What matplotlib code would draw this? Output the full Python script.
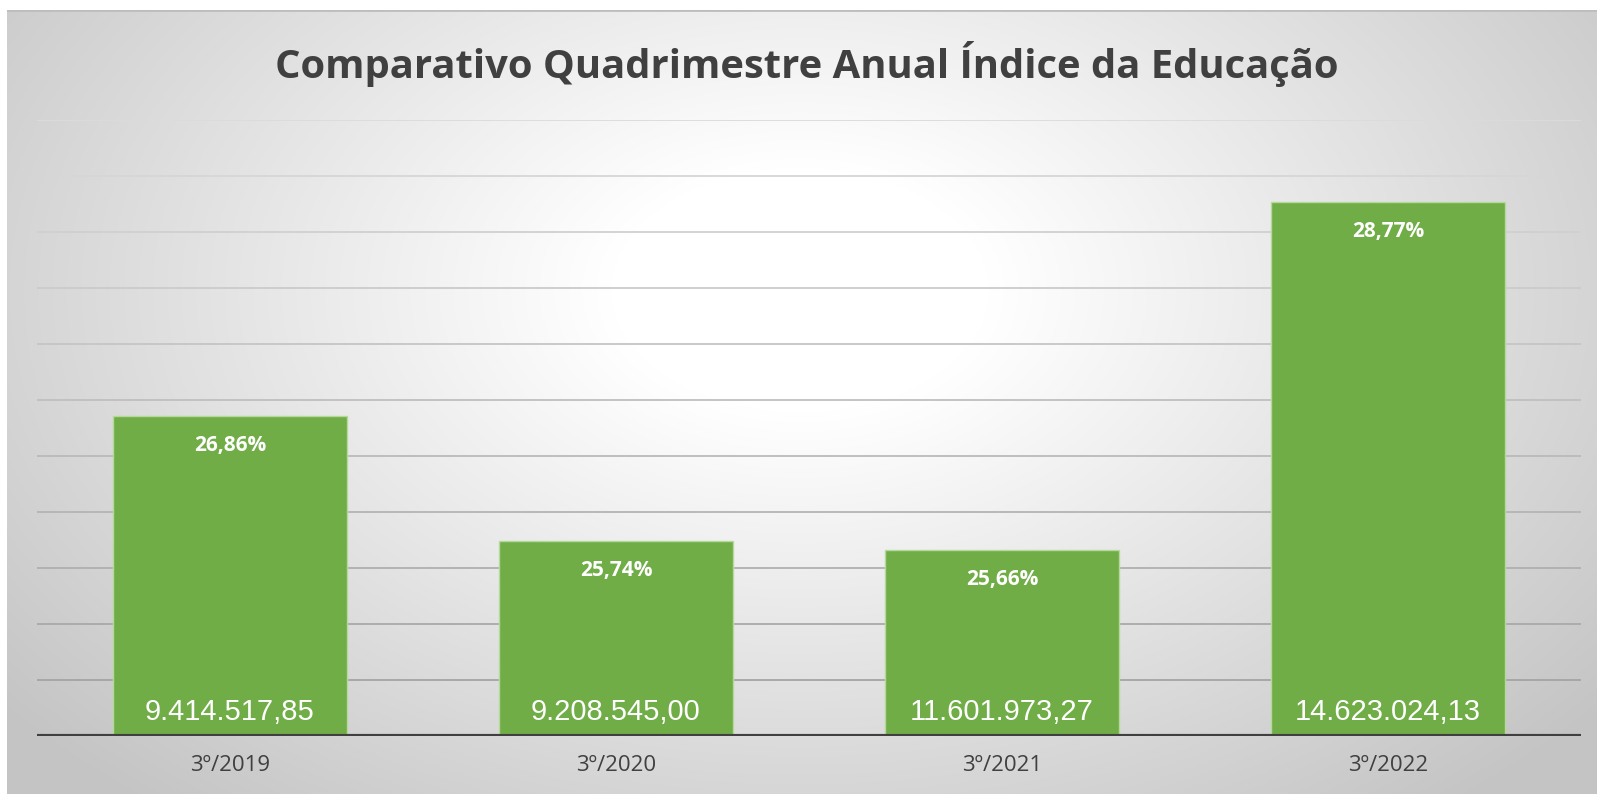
import numpy as np
import matplotlib
matplotlib.use('Agg')
from matplotlib import pyplot as plt

#chart data
periods = ['3º/2019', '3º/2020', '3º/2021', '3º/2022']
indices = [26.86, 25.74, 25.66, 28.77]
valores = [9414517.85, 9208545.00, 11601973.27, 14623024.13]

#brazilian number format
def fmtBR(v, dec=2):
	s = '{:,.{}f}'.format(v, dec)
	return s.replace(',', '#').replace('.', ',').replace('#', '.')

W, H = 1597, 794
fig = plt.figure(figsize=(W/100, H/100), dpi=100)
fig.patch.set_facecolor('white')

#radial gradient background of the chart frame
bg = fig.add_axes([7/W, 0, 1-7/W, 1-10/H])
bg.set_axis_off()
yy, xx = np.mgrid[10:H, 7:W]
d = np.sqrt(((xx-800)/1050.0)**2 + ((yy-290)/680.0)**2)
t = np.clip((d-0.18)/0.8, 0, 1)
shade = 1 - 0.23*t
bg.imshow(np.dstack([shade]*3), aspect='auto', extent=[0, 1, 0, 1], interpolation='bilinear')
bg.set_xlim(0, 1)
bg.set_ylim(0, 1)
bg.axhline(1, color='#bdbdbd', lw=2)

ax = fig.add_axes([37/W, (H-736)/H, (1581-37)/W, (736-120)/H])
ax.patch.set_alpha(0)
ymin, ymax = 24, 29.5
ax.set_ylim(ymin, ymax)
ax.set_xlim(-0.5, len(periods)-0.5)

#gridlines get darker towards the bottom
grid = np.arange(24.5, 29.51, 0.5)
for i, g in enumerate(grid):
	f = (g-ymin)/(ymax-ymin)
	c = 0.62 + 0.24*f
	ax.axhline(g, color=(c, c, c), lw=1.3, zorder=1)

x = np.arange(len(periods))
ax.bar(x, [v-ymin for v in indices], bottom=ymin, width=0.606, color='#70AD47',
	edgecolor='#b5d99c', linewidth=1, zorder=2)

for xi, p, v in zip(x, indices, valores):
	ax.text(xi, p-0.313, fmtBR(p)+'%', ha='center', va='baseline', color='white',
		fontsize=15, fontweight='bold', family='Open Sans', zorder=3)
	ax.text(xi, ymin+0.143, fmtBR(v), ha='center', va='baseline', color='white',
		fontsize=21, family='Liberation Sans', zorder=3)

ax.axhline(ymin, color='#404040', lw=3, zorder=4)

for s in ax.spines.values():
	s.set_visible(False)
ax.set_yticks([])
ax.set_xticks(x)
ax.set_xticklabels(periods, family='Open Sans', fontsize=16, color='#404040')
ax.tick_params(axis='x', length=0, pad=14)

fig.text(807/W, 1-78/H, 'Comparativo Quadrimestre Anual Índice da Educação', ha='center',
	va='baseline', fontsize=28.8, fontweight='bold', family='Open Sans', color='#404040')

fig.savefig('out.png', dpi=100)
